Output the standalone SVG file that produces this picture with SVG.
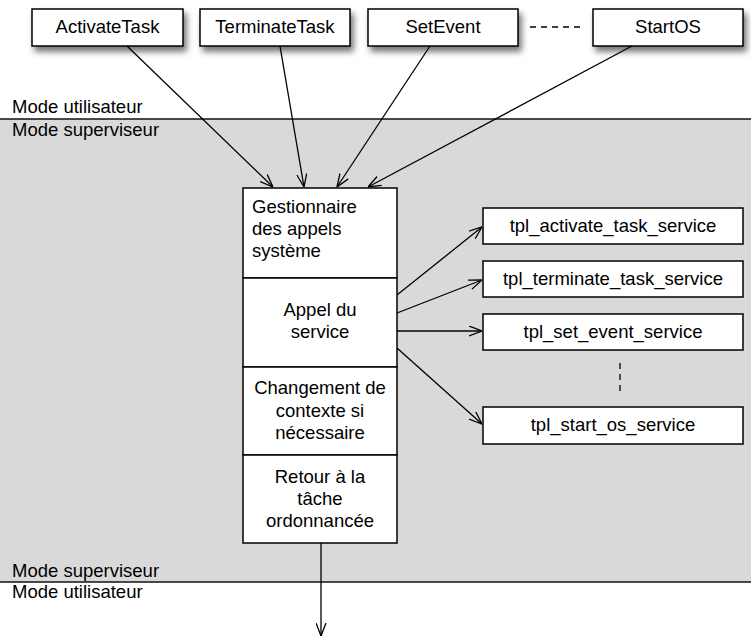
<svg xmlns="http://www.w3.org/2000/svg" width="751" height="637" viewBox="0 0 751 637">
<style>
  text { font-family: "Liberation Sans", Arial, sans-serif; font-size: 18.5px; fill: #000; }
  .c { text-anchor: middle; }
  .box { fill: #fff; stroke: #000; stroke-width: 1.5; }
  .conn { stroke: #000; stroke-width: 1.3; fill: none; }
  .dash { stroke: #000; stroke-width: 1.3; stroke-dasharray: 6 5; fill: none; }
</style>
<defs>
  <filter id="sh" x="-20%" y="-30%" width="150%" height="190%">
    <feDropShadow dx="3" dy="5" stdDeviation="3" flood-color="#000" flood-opacity="0.55"/>
  </filter>
  <marker id="arr" viewBox="0 0 13 11" refX="13" refY="5.5" markerWidth="13" markerHeight="11" markerUnits="userSpaceOnUse" orient="auto">
    <path d="M0,0.5 L13,5.5 L0,10.5" fill="none" stroke="#000" stroke-width="1.3"/>
  </marker>
</defs>

<g id="background">
  <rect x="0" y="119" width="751" height="463" fill="#d9d9d9"/>
  <line x1="0" y1="119" x2="751" y2="119" stroke="#111" stroke-width="1.6"/>
  <line x1="0" y1="582" x2="751" y2="582" stroke="#111" stroke-width="1.6"/>
  <text x="12" y="113">Mode utilisateur</text>
  <text x="12" y="136">Mode superviseur</text>
  <text x="12" y="577">Mode superviseur</text>
  <text x="12" y="598">Mode utilisateur</text>
</g>

<g id="ActivateTask">
  <rect class="box" x="32" y="9" width="151" height="37" filter="url(#sh)"/>
  <text class="c" x="107.5" y="33">ActivateTask</text>
</g>
<g id="TerminateTask">
  <rect class="box" x="200" y="9" width="150" height="37" filter="url(#sh)"/>
  <text class="c" x="275" y="33">TerminateTask</text>
</g>
<g id="SetEvent">
  <rect class="box" x="368" y="9" width="150" height="37" filter="url(#sh)"/>
  <text class="c" x="443" y="33">SetEvent</text>
</g>
<g id="StartOS">
  <rect class="box" x="593" y="9" width="150" height="37" filter="url(#sh)"/>
  <text class="c" x="668" y="33">StartOS</text>
</g>

<g id="gestionnaire">
  <rect class="box" x="243" y="188" width="154" height="90"/>
  <text x="252" y="213">Gestionnaire</text>
  <text x="252" y="235">des appels</text>
  <text x="252" y="257">système</text>
</g>
<g id="appel">
  <rect class="box" x="243" y="278" width="154" height="89"/>
  <text class="c" x="320" y="316">Appel du</text>
  <text class="c" x="320" y="338">service</text>
</g>
<g id="changement">
  <rect class="box" x="243" y="367" width="154" height="88"/>
  <text class="c" x="320" y="394">Changement de</text>
  <text class="c" x="320" y="417">contexte si</text>
  <text class="c" x="320" y="439">nécessaire</text>
</g>
<g id="retour">
  <rect class="box" x="243" y="455" width="154" height="88"/>
  <text class="c" x="320" y="483">Retour à la</text>
  <text class="c" x="320" y="505">tâche</text>
  <text class="c" x="320" y="527">ordonnancée</text>
</g>

<g id="tpl_activate_task_service">
  <rect class="box" x="483" y="208" width="260" height="36"/>
  <text class="c" x="613" y="232">tpl_activate_task_service</text>
</g>
<g id="tpl_terminate_task_service">
  <rect class="box" x="483" y="261" width="260" height="36"/>
  <text class="c" x="613" y="285">tpl_terminate_task_service</text>
</g>
<g id="tpl_set_event_service">
  <rect class="box" x="483" y="314" width="260" height="36"/>
  <text class="c" x="613" y="338">tpl_set_event_service</text>
</g>
<g id="tpl_start_os_service">
  <rect class="box" x="483" y="407" width="260" height="37"/>
  <text class="c" x="613" y="431">tpl_start_os_service</text>
</g>

<g id="connectors">
  <line class="conn" x1="127" y1="46" x2="273" y2="187" marker-end="url(#arr)"/>
  <line class="conn" x1="280" y1="46" x2="304" y2="187" marker-end="url(#arr)"/>
  <line class="conn" x1="430" y1="46" x2="337" y2="187" marker-end="url(#arr)"/>
  <line class="conn" x1="632" y1="46" x2="368" y2="187" marker-end="url(#arr)"/>
  <line class="conn" x1="397" y1="295" x2="482" y2="227" marker-end="url(#arr)"/>
  <line class="conn" x1="397" y1="313" x2="482" y2="280" marker-end="url(#arr)"/>
  <line class="conn" x1="397" y1="331" x2="482" y2="331" marker-end="url(#arr)"/>
  <line class="conn" x1="397" y1="348" x2="482" y2="424" marker-end="url(#arr)"/>
  <line class="conn" x1="321" y1="543" x2="321" y2="636" marker-end="url(#arr)"/>
  <line class="dash" x1="530" y1="27" x2="584" y2="27" stroke-dasharray="5 4"/>
  <line class="dash" x1="620" y1="363" x2="620" y2="396"/>
</g>
</svg>
